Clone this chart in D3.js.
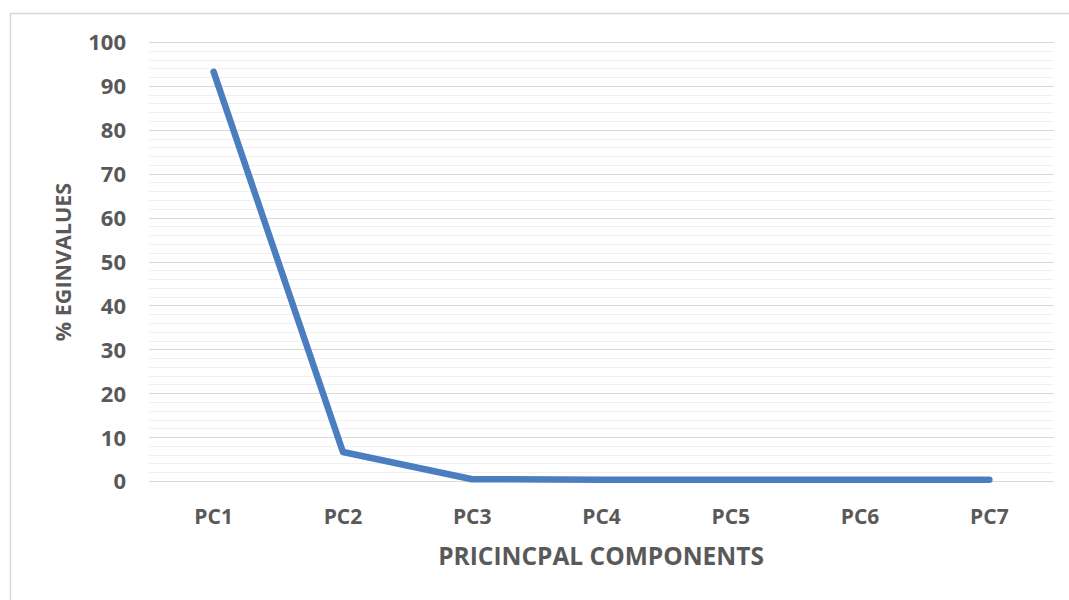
<!DOCTYPE html>
<html>
<head>
<meta charset="utf-8">
<script src="https://cdn.jsdelivr.net/npm/d3@7"></script>
<style>
  html, body { margin: 0; padding: 0; background: #fff; }
  svg text { font-family: "Open Sans", "Noto Sans", sans-serif; font-weight: 700; fill: #595959; }
</style>
</head>
<body>
<svg id="chart" width="1069" height="600"></svg>
<script>
// Percentage of variance (eigenvalues) explained by each principal component
const components = ["PC1", "PC2", "PC3", "PC4", "PC5", "PC6", "PC7"];
const eigenPercent = [93.2, 6.6, 0.4, 0.3, 0.3, 0.3, 0.3];
const yTicks = [0, 10, 20, 30, 40, 50, 60, 70, 80, 90, 100];
const yMinorTicks = d3.range(0, 101, 2);

const svg = d3.select("#chart");
const W = 1069, H = 600;
const m = { left: 149, right: 15, top: 42, bottom: 119 };

// chart area frame
svg.append("rect")
  .attr("x", 10.5).attr("y", 13.5)
  .attr("width", W + 10).attr("height", H + 10)
  .attr("fill", "#fff").attr("stroke", "#d9d9d9").attr("stroke-width", 1.5);

const x = d3.scaleBand().domain(components).range([m.left, W - m.right]);
const y = d3.scaleLinear().domain([0, 100]).range([H - m.bottom, m.top]);

// minor gridlines
svg.append("g").selectAll("line")
  .data(yMinorTicks.filter(v => v % 10 !== 0))
  .join("line")
  .attr("x1", m.left).attr("x2", W - m.right)
  .attr("y1", d => Math.round(y(d)) + 0.5).attr("y2", d => Math.round(y(d)) + 0.5)
  .attr("stroke", "#f0f0f0").attr("stroke-width", 1);

// major gridlines
svg.append("g").selectAll("line")
  .data(yTicks)
  .join("line")
  .attr("x1", m.left).attr("x2", W - m.right)
  .attr("y1", d => Math.round(y(d)) + 0.5).attr("y2", d => Math.round(y(d)) + 0.5)
  .attr("stroke", "#d9d9d9").attr("stroke-width", 1.2);

// y axis labels
const yAxis = d3.axisLeft(y).tickValues(yTicks).tickSize(0).tickPadding(23);
svg.append("g")
  .attr("transform", `translate(${m.left},0)`)
  .call(yAxis)
  .call(g => g.select(".domain").remove())
  .call(g => g.selectAll("text").attr("font-size", 22).attr("dy", "0.36em"));

// x axis labels
const xAxis = d3.axisBottom(x).tickSize(0);
svg.append("g")
  .attr("transform", `translate(0,${H - m.bottom})`)
  .call(xAxis)
  .call(g => g.select(".domain").remove())
  .call(g => g.selectAll("text").attr("font-size", 21).attr("y", 43).attr("dy", 0));

// data line
const line = d3.line()
  .x((d, i) => x(components[i]) + x.bandwidth() / 2)
  .y(d => y(d));
svg.append("path")
  .datum(eigenPercent)
  .attr("d", line)
  .attr("fill", "none")
  .attr("stroke", "#4A7EBF")
  .attr("stroke-width", 6.5)
  .attr("stroke-linejoin", "round")
  .attr("stroke-linecap", "round");

// axis titles
svg.append("text")
  .attr("x", 601)
  .attr("y", 565)
  .attr("text-anchor", "middle")
  .attr("font-size", 24.5)
  .text("PRICINCPAL COMPONENTS");

svg.append("text")
  .attr("transform", `translate(71,262) rotate(-90)`)
  .attr("text-anchor", "middle")
  .attr("font-size", 21.5)
  .text("% EGINVALUES");
</script>
</body>
</html>
